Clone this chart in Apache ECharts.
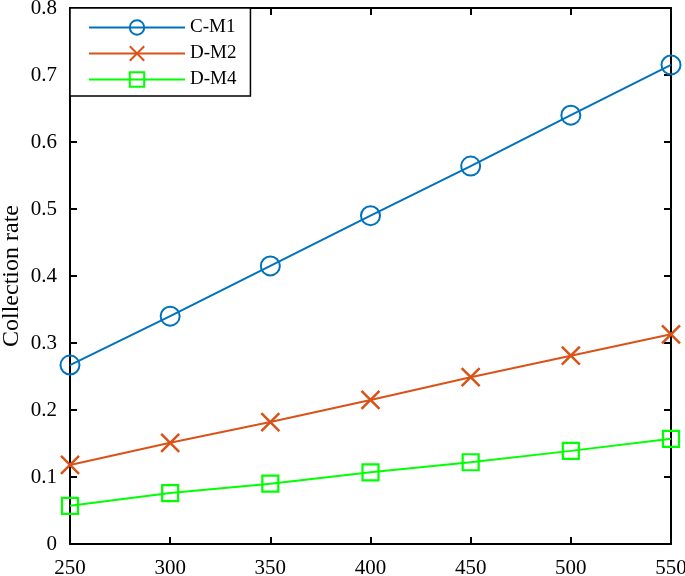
<!DOCTYPE html>
<html><head><meta charset="utf-8">
<script src="https://cdn.jsdelivr.net/npm/echarts@6/dist/echarts.min.js"></script>
<style>html,body{margin:0;padding:0;background:#fff}#c{width:685px;height:576px}</style>
</head><body><div id="c"></div>
<script>
const xValues = [250, 300, 350, 400, 450, 500, 550];
const cM1 = [0.267, 0.340, 0.415, 0.490, 0.564, 0.640, 0.715];
const dM2 = [0.118, 0.151, 0.182, 0.215, 0.249, 0.281, 0.313];
const dM4 = [0.057, 0.076, 0.090, 0.107, 0.122, 0.139, 0.157];
const seriesNames = ['C-M1', 'D-M2', 'D-M4'];
const yTitle = 'Collection rate';

const font = 'Liberation Serif';
const chart = echarts.init(document.getElementById('c'), null, {renderer: 'canvas'});
const pair = arr => xValues.map((x, i) => [x, arr[i]]);
const axisCommon = {
  axisLine: {show: true, onZero: false, lineStyle: {color: '#000', width: 2}},
  axisTick: {show: true, inside: true, length: 7, lineStyle: {color: '#000', width: 2}},
  splitLine: {show: false}
};
chart.setOption({
  animation: false,
  backgroundColor: '#fff',
  grid: {left: 70, right: 14, top: 8, bottom: 32, containLabel: false, outerBoundsMode: 'none'},
  graphic: [{
    type: 'text', x: 12, y: 276, rotation: Math.PI / 2,
    style: {text: yTitle, font: '24px "Liberation Serif"', fill: '#000',
      align: 'center', verticalAlign: 'middle'}
  }],
  legend: {
    left: 70, top: 8, orient: 'vertical',
    data: seriesNames,
    backgroundColor: '#fff', borderColor: '#000', borderWidth: 1.5,
    padding: [10, 14, 7, 18], itemGap: 7, itemWidth: 96, itemHeight: 18,
    textStyle: {fontFamily: font, fontSize: 19, color: '#000'}
  },
  xAxis: [
    Object.assign({type: 'value', min: 250, max: 550, interval: 50, position: 'bottom',
      axisLabel: {fontFamily: font, fontSize: 21, color: '#000', margin: 14}}, axisCommon),
    Object.assign({type: 'value', min: 250, max: 550, interval: 50, position: 'top',
      axisLabel: {show: false}}, axisCommon)
  ],
  yAxis: [
    Object.assign({type: 'value', min: 0, max: 0.8, interval: 0.1, position: 'left',
      axisLabel: {fontFamily: font, fontSize: 21, color: '#000', margin: 13,
        formatter: v => (Math.round(v * 10) / 10).toString()}}, axisCommon),
    Object.assign({type: 'value', min: 0, max: 0.8, interval: 0.1, position: 'right',
      axisLabel: {show: false}}, axisCommon)
  ],
  series: [
    {name: seriesNames[0], type: 'line', data: pair(cM1), symbol: 'circle', symbolSize: 19,
      lineStyle: {color: '#0072BD', width: 2},
      itemStyle: {color: 'rgba(255,255,255,0)', borderColor: '#0072BD', borderWidth: 2}},
    {name: seriesNames[1], type: 'line', data: pair(dM2), symbol: 'path://M0,0L10,10M10,0L0,10', symbolSize: 18,
      lineStyle: {color: '#D95319', width: 2},
      itemStyle: {color: 'rgba(255,255,255,0)', borderColor: '#D95319', borderWidth: 2.5}},
    {name: seriesNames[2], type: 'line', data: pair(dM4), symbol: 'rect', symbolSize: 16,
      lineStyle: {color: '#00FF00', width: 2},
      itemStyle: {color: 'rgba(255,255,255,0)', borderColor: '#00FF00', borderWidth: 2.2}}
  ]
});
</script></body></html>
